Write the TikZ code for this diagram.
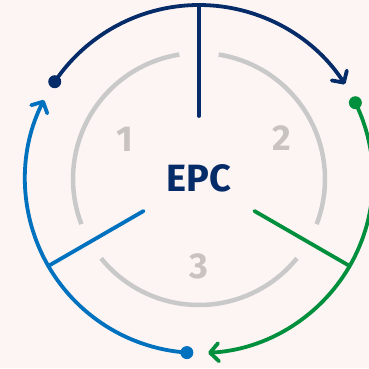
\documentclass[tikz,border=0pt]{standalone}
\usepackage{fontspec}
\setmainfont{Fira Sans}
\usetikzlibrary{arrows.meta}
\definecolor{bgc}{HTML}{FDF5F3}
\definecolor{navy}{HTML}{062B69}
\definecolor{epcblue}{HTML}{0071BE}
\definecolor{epcgreen}{HTML}{008F3C}
\definecolor{ringgray}{HTML}{C9C9C9}
\definecolor{numgray}{HTML}{C8C2C0}
\tikzset{
  ring/.style={draw=ringgray, line width=4.5pt},
  phase/.style={line width=3.8pt, line cap=round},
  cycle/.style={line width=3.8pt, -{Straight Barb[length=8.5pt,width=18pt,round]}},
  dot/.style={circle, inner sep=0pt, minimum size=13pt},
  num/.style={font=\fontsize{36}{36}\selectfont\bfseries, text=numgray},
}
\begin{document}
\begin{tikzpicture}[x=1pt,y=1pt]
  % canvas
  \fill[bgc] (-199,179) rectangle (170,-189);
  \useasboundingbox (-199,179) rectangle (170,-189);

  % grey ring split into three phases
  \draw[ring] (99:126) arc[start angle=99, end angle=201, radius=126];
  \draw[ring] (219:126) arc[start angle=219, end angle=321, radius=126];
  \draw[ring] (339:126) arc[start angle=339, end angle=441, radius=126];

  % centre label and phase numbers
  \node[font=\fontsize{38}{38}\selectfont\bfseries, text=navy] (epc) at (0,1) {EPC};
  \node[num] (n1) at (-74,40) {1};
  \node[num] (n2) at (83,41) {2};
  \node[num] (n3) at (0,-87) {3};

  % phase dividers
  \coordinate (a1) at (90:63);  \coordinate (b1) at (90:174);
  \coordinate (a2) at (330:64); \coordinate (b2) at (330:174);
  \coordinate (a3) at (210:64); \coordinate (b3) at (210:174);
  \draw[phase, navy] (a1) -- (b1);
  \draw[phase, epcgreen] (a2) -- (b2);
  \draw[phase, epcblue] (a3) -- (b3);

  % cycle arrows
  \node[dot, fill=navy] (s1) at (146:174) {};
  \node[dot, fill=epcgreen] (s2) at (26:174) {};
  \node[dot, fill=epcblue] (s3) at (266:174) {};
  \draw[cycle, navy] (s1.center) arc[start angle=146, end angle=33, radius=174];
  \draw[cycle, epcgreen] (s2.center) arc[start angle=26, end angle=-87, radius=174];
  \draw[cycle, epcblue] (s3.center) arc[start angle=266, end angle=153, radius=174];
\end{tikzpicture}
\end{document}
